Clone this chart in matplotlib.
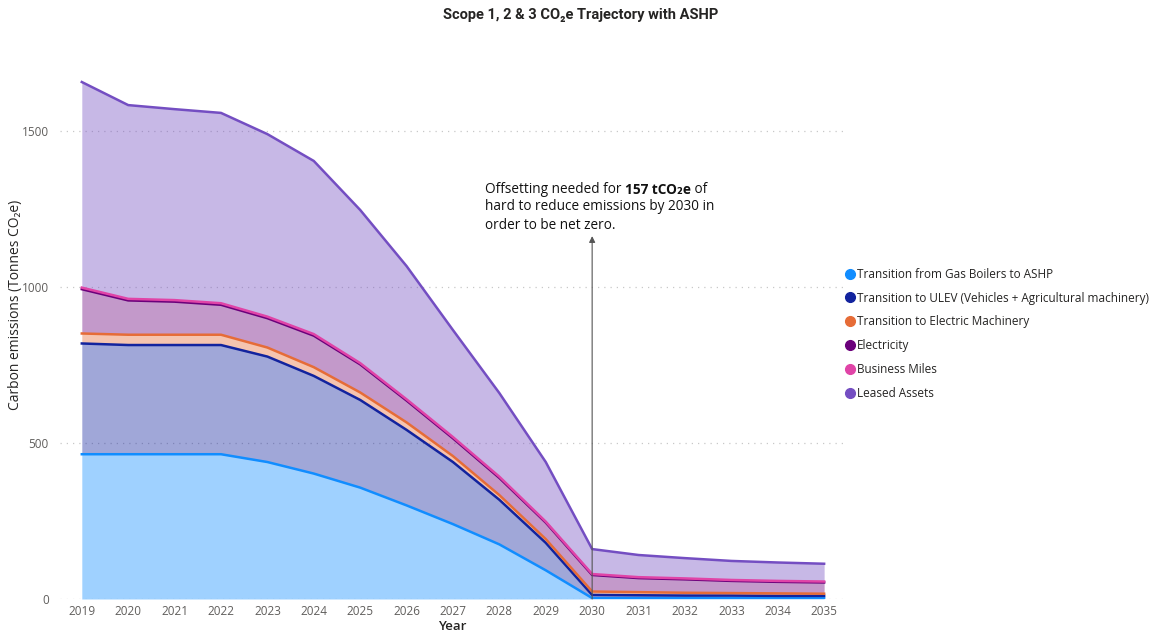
import matplotlib
matplotlib.use("Agg")
import matplotlib.pyplot as plt
from matplotlib.lines import Line2D
import numpy as np

years = [2019, 2020, 2021, 2022, 2023, 2024, 2025, 2026, 2027, 2028, 2029,
         2030, 2031, 2032, 2033, 2034, 2035]
series_names = [
    "Transition from Gas Boilers to ASHP",
    "Transition to ULEV (Vehicles + Agricultural machinery)",
    "Transition to Electric Machinery",
    "Electricity",
    "Business Miles",
    "Leased Assets",
]
ashp = [464, 464, 464, 464, 439, 402, 357, 300, 240, 175, 92, 3, 3, 3, 3, 3, 3]
ulev = [355, 350, 350, 350, 338, 313, 281, 242, 199, 143, 88, 10, 9, 8, 8, 7, 7]
machinery = [32, 33, 33, 33, 29, 28, 24, 24, 19, 15, 12, 11, 10, 9, 8, 8, 7]
electricity = [142, 110, 106, 96, 94, 101, 90, 70, 57, 55, 53, 53, 45, 43, 39, 37, 36]
business_miles = [5, 5, 5, 5, 5, 5, 4, 4, 4, 4, 3, 3, 3, 3, 3, 3, 3]
leased_assets = [659, 621, 612, 610, 585, 555, 491, 427, 343, 268, 191, 80, 71, 65, 61, 59, 57]
colors = ["#118DFF", "#12239E", "#E66C37", "#6B007B", "#E044A7", "#744EC2"]

y_ticks = [0, 500, 1000, 1500]
title = "Scope 1, 2 & 3 CO\u2082e Trajectory with ASHP"

BASE = ["Open Sans", "DejaVu Sans"]
plt.rcParams["font.family"] = BASE

fig = plt.figure(figsize=(11.61, 6.34), dpi=100)
ax = fig.add_axes([60 / 1161, 35 / 634, 785 / 1161, 546 / 634])

data = [ashp, ulev, machinery, electricity, business_miles, leased_assets]
x = np.array(years)
lower = np.zeros(len(years))
for vals, c in zip(data, colors):
    upper = lower + np.array(vals)
    ax.fill_between(x, lower, upper, color=c, alpha=0.4, linewidth=0, zorder=1)
    lower = upper
lower = np.zeros(len(years))
for i, (vals, c) in enumerate(zip(data, colors)):
    upper = lower + np.array(vals)
    ax.plot(x, upper, color=c, lw=1.8, zorder=3 + i, solid_joinstyle="round")
    lower = upper

ax.set_xlim(2018.53, 2035.45)
ax.set_ylim(0, 1750)
ax.set_xticks(years)
ax.set_xticklabels([str(y) for y in years])
ax.set_yticks(y_ticks)
ax.tick_params(axis="both", length=0, labelsize=8.5, colors="#605E5C")
ax.tick_params(axis="y", pad=8)
ax.tick_params(axis="x", pad=4)
for s in ax.spines.values():
    s.set_visible(False)
ax.grid(axis="y", color="#C8C8C8", linestyle=(0, (1, 4)), lw=0.9, zorder=0)
ax.set_axisbelow(True)

ax.set_xlabel("Year", fontsize=9.5, color="#252423", fontweight="semibold", labelpad=2)
ax.set_ylabel("Carbon emissions (Tonnes CO\u2082e)", fontsize=10, color="#252423")
ax.yaxis.set_label_coords(-37 / 785, 0.538)

fig.text(0.5, 1 - 15 / 634, title, ha="center", va="center", fontsize=10.5,
         fontweight="bold", color="#252423", family=["Roboto", "DejaVu Sans"])

# Annotation arrow
ax.annotate("", xy=(2030, 1163), xytext=(2030, 0),
            arrowprops=dict(arrowstyle="-|>", color="#555555", lw=0.8,
                            mutation_scale=9, shrinkA=0, shrinkB=0), zorder=10)

fs = 9.8
t1 = ax.text(2027.69, 1288, "Offsetting needed for ", fontsize=fs, color="#111111",
             ha="left", va="bottom", zorder=11)
t2 = ax.annotate("157 tCO\u2082e", xy=(1, 0), xycoords=t1, fontsize=fs,
                 fontweight="bold", color="#111111", ha="left", va="bottom", zorder=11)
t3 = ax.annotate(" of", xy=(1, 0), xycoords=t2, fontsize=fs, color="#111111",
                 ha="left", va="bottom", zorder=11)
ax.annotate("hard to reduce emissions by 2030 in\norder to be net zero.",
            xy=(0, 0), xycoords=t1, xytext=(0, -1.5), textcoords="offset points",
            fontsize=fs, color="#111111", ha="left", va="top",
            linespacing=1.3, zorder=11)

handles = [Line2D([0], [0], marker="o", linestyle="none", markersize=7,
                  markerfacecolor=c, markeredgecolor=c) for c in colors]
fig.legend(handles, series_names, loc="upper left",
           bbox_to_anchor=(838 / 1161, 1 - 263 / 634), frameon=False,
           fontsize=8.5, labelspacing=0.92, handletextpad=0.0, handlelength=1.2,
           borderaxespad=0, labelcolor="#252423")

fig.savefig("out.png", dpi=100)
